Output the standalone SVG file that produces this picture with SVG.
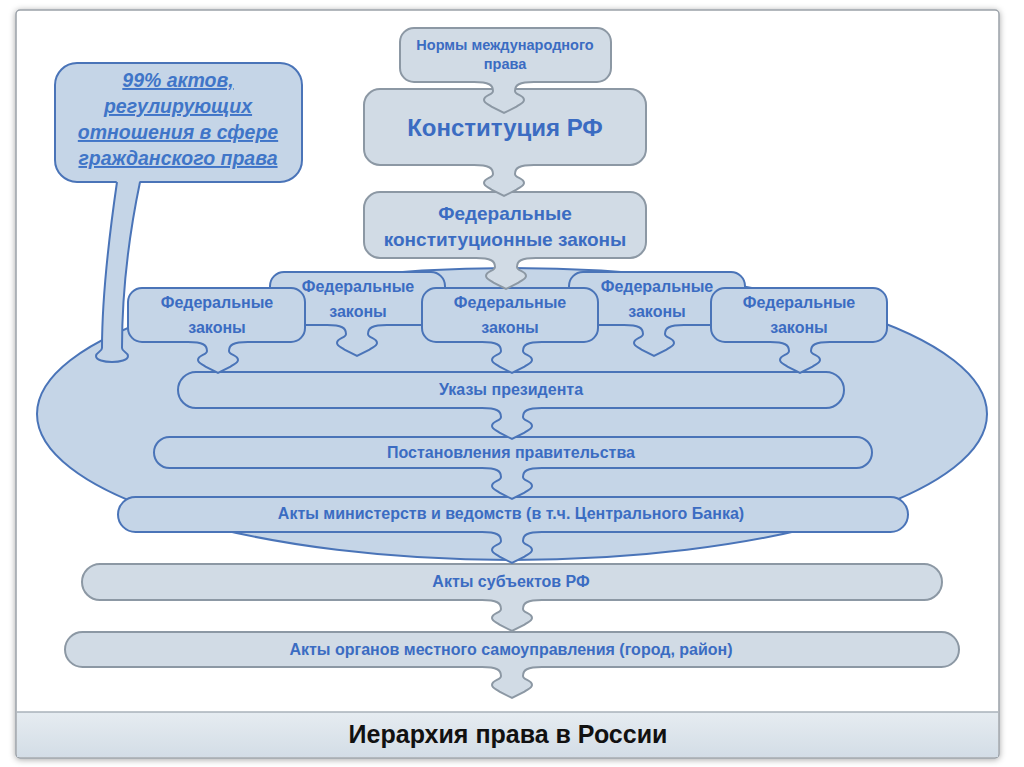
<svg xmlns="http://www.w3.org/2000/svg" xmlns:xlink="http://www.w3.org/1999/xlink" width="1024" height="767" viewBox="0 0 1024 767">
<defs>
<style>
.txt{font-family:"Liberation Sans",Arial,sans-serif;font-weight:bold;fill:#3b6cc2;text-anchor:middle}
.grey{fill:#d1dbe5;stroke:#8c98a4;stroke-width:2}
.blue{fill:#c5d5e7;stroke:#4a74b8;stroke-width:2}
.gf{fill:#d1dbe5;stroke:none}
.gl{fill:none;stroke:#8c98a4;stroke-width:2}
.bf{fill:#c5d5e7;stroke:none}
.bl{fill:none;stroke:#4a74b8;stroke-width:2}
</style>
<linearGradient id="bar" x1="0" y1="0" x2="0" y2="1">
<stop offset="0" stop-color="#e6ecf1"/>
<stop offset="1" stop-color="#d3dde6"/>
</linearGradient>
<filter id="sh" x="-5%" y="-5%" width="110%" height="110%">
<feDropShadow dx="0" dy="1" stdDeviation="3" flood-color="#000" flood-opacity="0.35"/>
</filter>
<path id="cfill" d="M -30,-3 L -30,0 C -15,0 -11,3 -11,9 C -11,13 -20,13 -20,18 C -20,21 -16,22 -12,25 L 0,31 L 12,25 C 16,22 20,21 20,18 C 20,13 11,13 11,9 C 11,3 15,0 30,0 L 30,-3 Z"/>
<path id="cline" d="M -30,0 C -15,0 -11,3 -11,9 C -11,13 -20,13 -20,18 C -20,21 -16,22 -12,25 L 0,31 L 12,25 C 16,22 20,21 20,18 C 20,13 11,13 11,9 C 11,3 15,0 30,0"/>
</defs>

<rect x="0" y="0" width="1024" height="767" fill="#ffffff"/>
<g id="frame">
<rect x="16" y="10" width="983" height="748" rx="4" fill="#ffffff" stroke="#9aa1a8" stroke-width="1.5" filter="url(#sh)"/>
<rect x="17" y="712" width="981" height="45" fill="url(#bar)"/>
<line x1="17" y1="712" x2="998" y2="712" stroke="#a9b2ba" stroke-width="1.5"/>
<text x="508" y="743" font-family="'Liberation Sans',Arial,sans-serif" font-weight="bold" font-size="25" fill="#111" text-anchor="middle">Иерархия права в России</text>
</g>

<g id="ellipse">
<ellipse cx="512" cy="414" rx="475" ry="146" class="blue"/>
</g>

<g id="fz-b">
<rect x="270" y="272" width="175" height="53" rx="14" class="blue"/>
<text class="txt" font-size="16" x="358" y="292">Федеральные</text>
<text class="txt" font-size="16" x="358" y="317">законы</text>
</g>
<g id="fz-d">
<rect x="569" y="272" width="176" height="53" rx="14" class="blue"/>
<text class="txt" font-size="16" x="657" y="292">Федеральные</text>
<text class="txt" font-size="16" x="657" y="317">законы</text>
</g>
<g id="fz-a">
<rect x="128" y="288" width="177" height="54" rx="14" class="blue"/>
<text class="txt" font-size="16" x="217" y="308">Федеральные</text>
<text class="txt" font-size="16" x="217" y="333">законы</text>
</g>
<g id="fz-c">
<rect x="422" y="288" width="176" height="54" rx="14" class="blue"/>
<text class="txt" font-size="16" x="510" y="308">Федеральные</text>
<text class="txt" font-size="16" x="510" y="333">законы</text>
</g>
<g id="fz-e">
<rect x="711" y="288" width="176" height="54" rx="14" class="blue"/>
<text class="txt" font-size="16" x="799" y="308">Федеральные</text>
<text class="txt" font-size="16" x="799" y="333">законы</text>
</g>

<g id="ukazy">
<rect x="178" y="372" width="666" height="36" rx="18" class="blue"/>
<text class="txt" font-size="16" x="511" y="395">Указы президента</text>
</g>
<g id="postanovleniya">
<rect x="154" y="437" width="718" height="31" rx="15.5" class="blue"/>
<text class="txt" font-size="16" x="511" y="458">Постановления правительства</text>
</g>
<g id="akty-min">
<rect x="118" y="497" width="790" height="35" rx="17.5" class="blue"/>
<text class="txt" font-size="16" x="511" y="519">Акты министерств и ведомств (в т.ч. Центрального Банка)</text>
</g>
<g id="akty-subj">
<rect x="82" y="564" width="860" height="36" rx="18" class="grey"/>
<text class="txt" font-size="16" x="511" y="587">Акты субъектов РФ</text>
</g>
<g id="akty-mest">
<rect x="65" y="632" width="894" height="35" rx="17.5" class="grey"/>
<text class="txt" font-size="16" x="511" y="655">Акты органов местного самоуправления (город, район)</text>
</g>

<g id="normy">
<rect x="400" y="28" width="211" height="54" rx="14" class="grey"/>
<text class="txt" font-size="14.5" x="505" y="50">Нормы международного</text>
<text class="txt" font-size="14.5" x="505" y="69">права</text>
</g>
<g id="konstitutsiya">
<rect x="364" y="89" width="282" height="76" rx="16" class="grey"/>
<text class="txt" font-size="24" x="505" y="136">Конституция РФ</text>
</g>
<g id="fkz">
<rect x="364" y="192" width="282" height="66" rx="16" class="grey"/>
<text class="txt" font-size="19" x="505" y="220">Федеральные</text>
<text class="txt" font-size="19" x="505" y="246">конституционные законы</text>
</g>

<g id="callout">
<rect x="55" y="63" width="247" height="119" rx="22" class="blue"/>
<g font-family="'Liberation Sans',Arial,sans-serif" font-weight="bold" font-style="italic" font-size="19.5" fill="#4075c8" text-anchor="middle" text-decoration="underline">
<text x="178" y="87">99% актов,</text>
<text x="178" y="113">регулирующих</text>
<text x="178" y="139">отношения в сфере</text>
<text x="178" y="165">гражданского права</text>
</g>
<path d="M 117,179 C 110,230 102,290 102,348 C 102,352 96,352 96,356 C 96,360 104,362 112,362 C 120,362 128,360 128,356 C 128,352 122,352 122,348 C 122,290 130,230 140,179 Z" class="bf"/>
<path d="M 117,182 C 110,230 102,290 102,348 C 102,352 96,352 96,356 C 96,360 104,362 112,362 C 120,362 128,360 128,356 C 128,352 122,352 122,348 C 122,290 130,230 140,182" class="bl"/>
</g>

<g id="connectors">
<g transform="translate(504,82)"><use xlink:href="#cfill" class="gf"/><use xlink:href="#cline" class="gl"/></g>
<g transform="translate(504,165)"><use xlink:href="#cfill" class="gf"/><use xlink:href="#cline" class="gl"/></g>
<g transform="translate(506,258)"><use xlink:href="#cfill" class="gf"/><use xlink:href="#cline" class="gl"/></g>
<g transform="translate(218,342)"><use xlink:href="#cfill" class="bf"/><use xlink:href="#cline" class="bl"/></g>
<g transform="translate(357,325)"><use xlink:href="#cfill" class="bf"/><use xlink:href="#cline" class="bl"/></g>
<g transform="translate(512,342)"><use xlink:href="#cfill" class="bf"/><use xlink:href="#cline" class="bl"/></g>
<g transform="translate(654,325)"><use xlink:href="#cfill" class="bf"/><use xlink:href="#cline" class="bl"/></g>
<g transform="translate(800,342)"><use xlink:href="#cfill" class="bf"/><use xlink:href="#cline" class="bl"/></g>
<g transform="translate(512,408)"><use xlink:href="#cfill" class="bf"/><use xlink:href="#cline" class="bl"/></g>
<g transform="translate(512,468)"><use xlink:href="#cfill" class="bf"/><use xlink:href="#cline" class="bl"/></g>
<g transform="translate(512,532)"><use xlink:href="#cfill" class="bf"/><use xlink:href="#cline" class="bl"/></g>
<g transform="translate(512,600)"><use xlink:href="#cfill" class="gf"/><use xlink:href="#cline" class="gl"/></g>
<g transform="translate(512,667)"><use xlink:href="#cfill" class="gf"/><use xlink:href="#cline" class="gl"/></g>
</g>
</svg>
